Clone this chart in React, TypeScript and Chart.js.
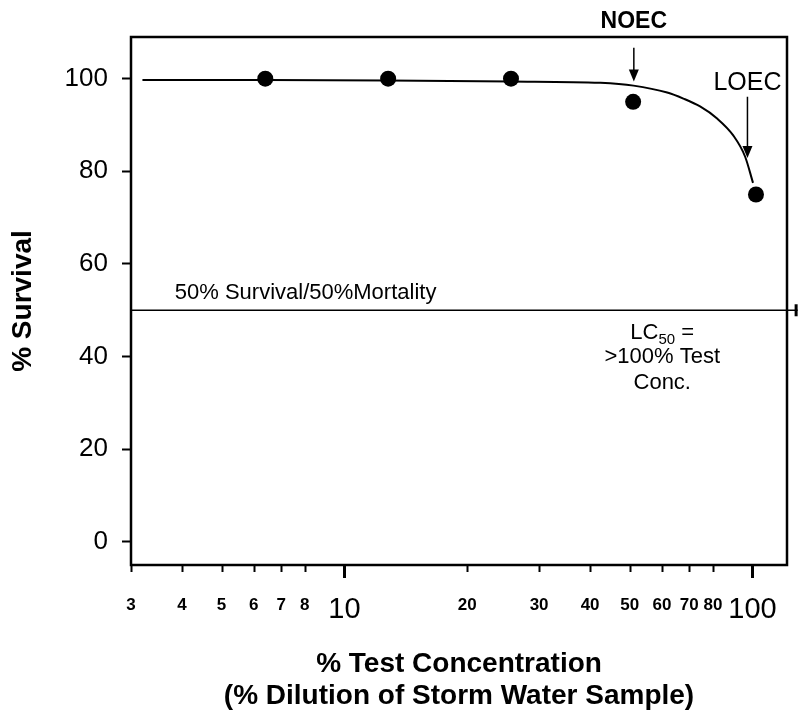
import React, { useEffect, useRef } from "react";
import { Chart, registerables } from "chart.js";

Chart.register(...registerables);

// ---- data ----
const concentrations = [6.4, 12.8, 25.6, 51, 102];
const survival = [100, 100, 100, 95, 75];

const curveX = [3.2, 6.4, 12.8, 25.6, 42.4, 51.1, 61.8, 67.7, 74.4, 81.9, 89.8, 95.9, 100.3];
const curveY = [99.7, 99.7, 99.6, 99.4, 99.1, 98.5, 97.0, 95.7, 94.0, 91.4, 87.7, 83.2, 77.5];

const xTickValues = [3, 4, 5, 6, 7, 8, 10, 20, 30, 40, 50, 60, 70, 80, 100];
const xMajorTicks = [10, 100];
const yTickValues = [0, 20, 40, 60, 80, 100];

const refLineX = [3, 129];
const refLineValue = 50;

const xTitle = ["% Test Concentration", "(% Dilution of Storm Water Sample)"];
const yTitle = "% Survival";
const refLabel = "50% Survival/50%Mortality";
const noecLabel = "NOEC";
const loecLabel = "LOEC";
const lcLines = [">100% Test", "Conc."];

const FONT = '"Liberation Sans", Arial, Helvetica, sans-serif';

const overlayPlugin = {
  id: "overlay",
  afterDraw(chart: any) {
    const { ctx, chartArea: a, scales } = chart;
    const x = scales.x;
    const y = scales.y;
    ctx.save();
    ctx.strokeStyle = "#000";
    ctx.fillStyle = "#000";

    // frame
    ctx.lineWidth = 2.5;
    ctx.strokeRect(a.left, a.top, a.right - a.left, a.bottom - a.top);

    // x tick marks
    xTickValues.forEach((v) => {
      const px = Math.round(x.getPixelForValue(v)) + 0.5;
      const major = xMajorTicks.includes(v);
      ctx.lineWidth = major ? 3 : 2;
      ctx.beginPath();
      ctx.moveTo(px, a.bottom);
      ctx.lineTo(px, a.bottom + (major ? 13 : 7));
      ctx.stroke();
    });

    // end mark of the 50% line
    const endX = x.getPixelForValue(refLineX[1]);
    const refY = y.getPixelForValue(refLineValue);
    ctx.lineWidth = 3;
    ctx.beginPath();
    ctx.moveTo(endX - 1.5, refY - 6);
    ctx.lineTo(endX - 1.5, refY + 6);
    ctx.stroke();

    const arrow = (px: number, y0: number, y1: number) => {
      ctx.lineWidth = 1.5;
      ctx.beginPath();
      ctx.moveTo(px, y0);
      ctx.lineTo(px, y1 - 8);
      ctx.stroke();
      ctx.beginPath();
      ctx.moveTo(px - 5, y1 - 12);
      ctx.lineTo(px + 5, y1 - 12);
      ctx.lineTo(px, y1);
      ctx.closePath();
      ctx.fill();
    };

    // NOEC
    const noecX = x.getPixelForValue(51.2);
    ctx.font = `bold 23px ${FONT}`;
    ctx.textAlign = "center";
    ctx.textBaseline = "middle";
    ctx.fillText(noecLabel, noecX, y.getPixelForValue(112.3));
    arrow(noecX, y.getPixelForValue(106.7), y.getPixelForValue(99.4));

    // LOEC
    const loecX = x.getPixelForValue(97.2);
    ctx.font = `25px ${FONT}`;
    ctx.fillText(loecLabel, loecX, y.getPixelForValue(99.0));
    arrow(loecX, y.getPixelForValue(96.1), y.getPixelForValue(82.9));

    // 50% label
    ctx.font = `22px ${FONT}`;
    ctx.textAlign = "left";
    ctx.textBaseline = "alphabetic";
    ctx.fillText(refLabel, x.getPixelForValue(3.84), y.getPixelForValue(52.4));

    // LC50 text block
    const cx = x.getPixelForValue(60.1);
    const l1y = y.getPixelForValue(45.0);
    ctx.textBaseline = "middle";
    ctx.font = `22px ${FONT}`;
    const wLC = ctx.measureText("LC").width;
    const wEq = ctx.measureText(" =").width;
    ctx.font = `15px ${FONT}`;
    const wSub = ctx.measureText("50").width;
    const total = wLC + wSub + wEq;
    let sx = cx - total / 2;
    ctx.textAlign = "left";
    ctx.font = `22px ${FONT}`;
    ctx.fillText("LC", sx, l1y);
    sx += wLC;
    ctx.font = `15px ${FONT}`;
    ctx.fillText("50", sx, l1y + 6);
    sx += wSub;
    ctx.font = `22px ${FONT}`;
    ctx.fillText(" =", sx, l1y);
    ctx.textAlign = "center";
    ctx.fillText(lcLines[0], cx, y.getPixelForValue(40.0));
    ctx.fillText(lcLines[1], cx, y.getPixelForValue(34.4));

    ctx.restore();
  },
};

export default function App() {
  const ref = useRef<HTMLCanvasElement>(null);

  useEffect(() => {
    if (!ref.current) return;
    const chart = new Chart(ref.current, {
      type: "line",
      data: {
        datasets: [
          {
            label: "reference",
            data: refLineX.map((v) => ({ x: v, y: refLineValue })),
            borderColor: "#000",
            borderWidth: 1.5,
            clip: false as any,
            pointRadius: 0,
          } as any,
          {
            label: "fit",
            data: curveX.map((v, i) => ({ x: v, y: curveY[i] })),
            borderColor: "#000",
            borderWidth: 2,
            pointRadius: 0,
            cubicInterpolationMode: "monotone",
          },
          {
            label: "observed",
            data: concentrations.map((v, i) => ({ x: v, y: survival[i] })),
            showLine: false,
            pointRadius: 8,
            pointBackgroundColor: "#000",
            pointBorderWidth: 0,
            borderColor: "#000",
          },
        ],
      },
      options: {
        animation: false,
        responsive: false,
        devicePixelRatio: 1,
        layout: { padding: { top: 37, right: 13, bottom: 0, left: 0 } },
        plugins: {
          legend: { display: false },
          tooltip: { enabled: false },
          title: { display: false },
        },
        scales: {
          x: {
            type: "logarithmic",
            min: 3,
            max: 121.5,
            afterBuildTicks: (s: any) => {
              s.ticks = xTickValues.map((v) => ({ value: v }));
            },
            afterFit: (s: any) => {
              s.height = 145;
              s.paddingLeft = 0;
              s.paddingRight = 0;
            },
            grid: { display: false, drawTicks: false },
            border: { display: false },
            ticks: {
              autoSkip: false,
              maxRotation: 0,
              minRotation: 0,
              padding: 30,
              color: "#000",
              callback: (v: any) => String(v),
              font: (c: any) =>
                c.tick && xMajorTicks.includes(c.tick.value)
                  ? { family: FONT, size: 29, weight: "normal", lineHeight: 1 }
                  : { family: FONT, size: 17, weight: "bold", lineHeight: 1.2 },
            },
            title: {
              display: true,
              text: xTitle,
              color: "#000",
              font: { family: FONT, size: 28, weight: "bold", lineHeight: 32 / 28 },
              padding: { top: 0, bottom: -2 },
            },
          },
          y: {
            type: "linear",
            min: -5,
            max: 109,
            afterBuildTicks: (s: any) => {
              s.ticks = yTickValues.map((v) => ({ value: v }));
            },
            afterFit: (s: any) => {
              s.width = 131;
              s.paddingTop = 0;
              s.paddingBottom = 0;
            },
            grid: {
              drawOnChartArea: false,
              drawTicks: true,
              tickLength: 9,
              tickWidth: 2,
              color: "#000",
            },
            border: { display: false },
            ticks: {
              padding: 14,
              color: "#000",
              font: { family: FONT, size: 26 },
              callback: (v: any) => String(v),
            },
            title: {
              display: true,
              text: yTitle,
              color: "#000",
              font: { family: FONT, size: 28, weight: "bold", lineHeight: 1.2 },
              padding: { top: 6, bottom: 0 },
            },
          },
        },
      } as any,
      plugins: [overlayPlugin],
    });
    return () => chart.destroy();
  }, []);

  return (
    <div
      style={{
        position: "absolute",
        left: 0,
        top: 0,
        width: 800,
        height: 710,
        background: "#fff",
      }}
    >
      <canvas ref={ref} width={800} height={710} style={{ display: "block", width: 800, height: 710 }} />
    </div>
  );
}
